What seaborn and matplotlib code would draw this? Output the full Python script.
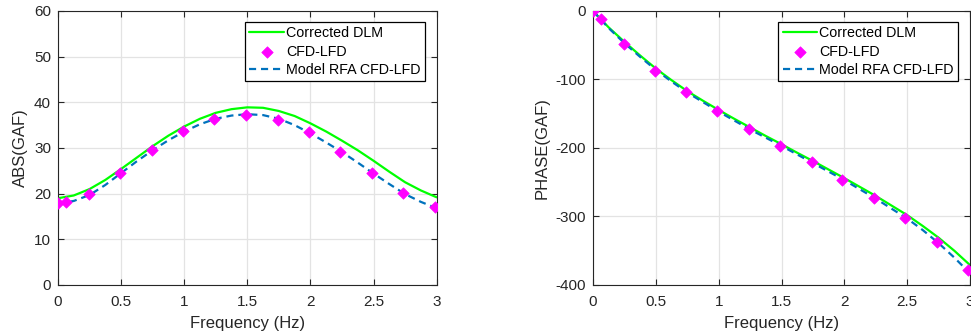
import numpy as np
import pandas as pd
import matplotlib
matplotlib.use("Agg")
import matplotlib.pyplot as plt
import seaborn as sns

# Frequency grid of the analytical curves (Hz)
freq_curve = [0.0, 0.125, 0.25, 0.375, 0.5, 0.625, 0.75, 0.875, 1.0, 1.125,
              1.25, 1.375, 1.5, 1.625, 1.75, 1.875, 2.0, 2.125, 2.25, 2.375,
              2.5, 2.625, 2.75, 2.875, 3.0]

# Magnitude of the GAF
abs_dlm = [19.0, 19.6, 21.0, 23.0, 25.4, 27.9, 30.4, 32.7, 34.7, 36.4,
           37.7, 38.5, 38.9, 38.8, 38.1, 37.0, 35.4, 33.6, 31.6, 29.5,
           27.2, 24.8, 22.5, 20.7, 19.2]
abs_rfa = [17.8, 18.4, 19.7, 21.9, 24.5, 27.1, 29.5, 31.7, 33.6, 35.2,
           36.4, 37.1, 37.4, 37.2, 36.4, 35.0, 33.2, 31.2, 29.1, 26.8,
           24.4, 22.1, 19.9, 18.2, 16.8]

# Phase of the GAF (deg)
phase_dlm = [0.0, -24.0, -45.0, -65.0, -84.0, -101.0, -117.0, -131.0, -144.5, -157.5,
             -170.0, -182.5, -194.5, -207.0, -219.0, -231.5, -244.0, -257.0, -270.0, -284.0,
             -298.0, -314.0, -331.0, -350.0, -371.0]
phase_rfa = [0.0, -25.0, -47.0, -67.0, -86.0, -103.0, -119.0, -133.0, -147.0, -160.0,
             -173.0, -185.0, -197.0, -209.5, -222.0, -234.5, -247.0, -260.5, -274.0, -288.5,
             -303.0, -320.0, -339.0, -360.0, -383.0]

# CFD-LFD samples
freq_cfd = [0.0, 0.062, 0.245, 0.493, 0.742, 0.99, 1.24, 1.49, 1.74, 1.985,
            2.235, 2.485, 2.735, 2.985]
abs_cfd = [18.0, 18.2, 20.0, 24.6, 29.6, 33.8, 36.3, 37.2, 36.1, 33.4,
           29.2, 24.5, 20.1, 17.0]
phase_cfd = [0.0, -12.0, -47.5, -87.0, -118.5, -146.0, -172.0, -196.5, -221.0, -246.5,
             -273.0, -302.0, -337.0, -378.0]

labels = ["Corrected DLM", "CFD-LFD", "Model RFA CFD-LFD"]
green = "#00ff00"
magenta = "#ff00ff"
blue = "#0072bd"
ink = "#262626"

sns.set_theme(style="white")
plt.rcParams["font.family"] = ["Liberation Sans", "DejaVu Sans"]

curves = pd.DataFrame({"freq": freq_curve, "abs_dlm": abs_dlm, "abs_rfa": abs_rfa,
                       "phase_dlm": phase_dlm, "phase_rfa": phase_rfa})
points = pd.DataFrame({"freq": freq_cfd, "abs": abs_cfd, "phase": phase_cfd})

fig = plt.figure(figsize=(9.71, 3.35), dpi=100)
ax_abs = fig.add_axes([0.0597, 0.1493, 0.3900, 0.8179])
ax_ph = fig.add_axes([0.6107, 0.1493, 0.3883, 0.8179])


def draw(ax, dlm_col, rfa_col, pt_col, ylim, yticks, ylabel):
    sns.lineplot(data=curves, x="freq", y=dlm_col, ax=ax, color=green,
                 linewidth=1.6, label=labels[0])
    sns.scatterplot(data=points, x="freq", y=pt_col, ax=ax, color=magenta,
                    marker="D", s=34, edgecolor=magenta, linewidth=0.5,
                    label=labels[1], zorder=4)
    sns.lineplot(data=curves, x="freq", y=rfa_col, ax=ax, color=blue,
                 linewidth=1.6, ls=(0, (3.2, 2.2)), label=labels[2])
    ax.set_xlim(0, 3)
    ax.set_ylim(*ylim)
    ax.set_xticks([0, 0.5, 1, 1.5, 2, 2.5, 3])
    ax.set_xticklabels(["0", "0.5", "1", "1.5", "2", "2.5", "3"])
    ax.set_yticks(yticks)
    ax.set_yticklabels([str(v) for v in yticks])
    ax.set_xlabel("Frequency (Hz)", fontsize=12, color=ink, labelpad=5)
    ax.set_ylabel(ylabel, fontsize=12, color=ink, labelpad=4)
    ax.grid(True, color="#e3e3e3", linewidth=0.9)
    ax.set_axisbelow(True)
    for sp in ax.spines.values():
        sp.set_visible(True)
        sp.set_color(ink)
        sp.set_linewidth(0.8)
    ax.tick_params(direction="in", length=4, width=0.8, color=ink,
                   labelcolor=ink, labelsize=11, top=True, right=True,
                   bottom=True, left=True)
    ax.tick_params(axis="x", pad=7)
    ax.tick_params(axis="y", pad=5)
    leg = ax.legend(loc="upper right", bbox_to_anchor=(1 - 12 / 377, 1 - 11 / 274),
                    borderaxespad=0, fontsize=10.3, frameon=True, fancybox=False,
                    framealpha=1, edgecolor="black", handlelength=2.4,
                    handletextpad=0.15, labelspacing=0.3, borderpad=0.3,
                    scatterpoints=1)
    leg.get_frame().set_linewidth(0.9)
    for t in leg.get_texts():
        t.set_color("black")


draw(ax_abs, "abs_dlm", "abs_rfa", "abs", (0, 60), [0, 10, 20, 30, 40, 50, 60], "ABS(GAF)")
draw(ax_ph, "phase_dlm", "phase_rfa", "phase", (-400, 0), [-400, -300, -200, -100, 0], "PHASE(GAF)")

fig.savefig("out.png", dpi=100)
